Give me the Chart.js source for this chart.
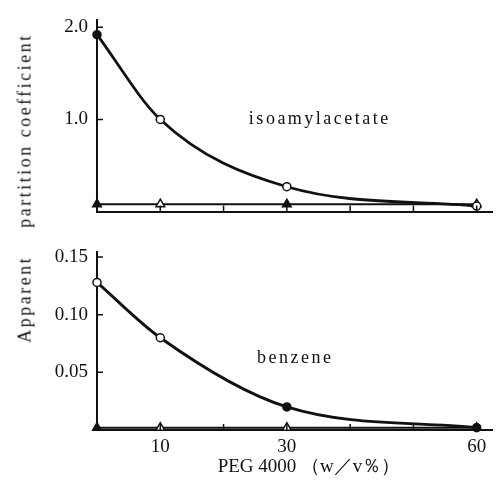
<!DOCTYPE html>
<html>
<head>
<meta charset="utf-8">
<script src="https://cdn.jsdelivr.net/npm/chart.js@4.4.0/dist/chart.umd.min.js"></script>
<style>
body { margin: 0; background: #fff; }
#wrap { position: relative; width: 499px; height: 481px; }
#topChart { position: absolute; left: 0; top: 0; }
#bottomChart { position: absolute; left: 0; top: 232px; }
#ytitle {
    position: absolute; left: 25px; top: 188px;
    transform: translate(-50%, -50%) rotate(-90deg);
    font: 18px "Liberation Serif", serif; letter-spacing: 2.5px;
    white-space: pre; color: #111;
}
</style>
</head>
<body>
<div id="wrap">
    <canvas id="topChart" width="499" height="232"></canvas>
    <canvas id="bottomChart" width="499" height="249"></canvas>
    <div id="ytitle">Apparent    partition coefficient</div>
</div>
<script>
// PEG 4000 concentration (w/v%)
var peg = [0, 10, 30, 60];

// isoamylacetate panel
var isoamylCurve = [1.92, 1.0, 0.27, 0.06];
var isoamylFlat = [0.08, 0.08, 0.08, 0.08];
var isoamylTicks = [1.0, 2.0];

// benzene panel
var benzeneCurve = [0.128, 0.080, 0.020, 0.002];
var benzeneFlat = [0.002, 0.002, 0.002, 0.002];
var benzeneTicks = [0.05, 0.10, 0.15];

var xMarks = [10, 20, 30, 40, 50, 60];
var xLabels = [10, 30, 60];

var ink = '#111';
var serif = '"Liberation Serif", serif';

// small tick marks pointing into the plot area
var innerTicks = {
    id: 'innerTicks',
    afterDraw: function (chart) {
        var ctx = chart.ctx, area = chart.chartArea;
        var x = chart.scales.x, y = chart.scales.y;
        ctx.save();
        ctx.strokeStyle = ink;
        ctx.lineWidth = 1.5;
        ctx.beginPath();
        xMarks.forEach(function (v) {
            var px = x.getPixelForValue(v);
            ctx.moveTo(px, area.bottom);
            ctx.lineTo(px, area.bottom - 6);
        });
        y.ticks.forEach(function (t) {
            var py = y.getPixelForValue(t.value);
            ctx.moveTo(area.left, py);
            ctx.lineTo(area.left + 6, py);
        });
        ctx.stroke();
        ctx.restore();
    }
};

// compound name written inside each panel
var note = {
    id: 'note',
    afterDraw: function (chart, args, opts) {
        var ctx = chart.ctx;
        ctx.save();
        ctx.font = '18px ' + serif;
        ctx.letterSpacing = '2.5px';
        ctx.fillStyle = ink;
        ctx.textAlign = 'left';
        ctx.textBaseline = 'middle';
        ctx.fillText(opts.text, chart.scales.x.getPixelForValue(opts.x), chart.scales.y.getPixelForValue(opts.y));
        ctx.restore();
    }
};

function panel(id, curve, flat, yMax, yTicks, digits, label, showX, pad, curveFill, flatFill) {
    return new Chart(document.getElementById(id), {
        type: 'line',
        data: {
            labels: peg,
            datasets: [{
                data: curve.map(function (v, i) { return { x: peg[i], y: v }; }),
                borderColor: ink,
                borderWidth: 2.8,
                cubicInterpolationMode: 'monotone',
                pointStyle: 'circle',
                pointRadius: 4,
                pointBorderWidth: 1.5,
                pointBorderColor: ink,
                pointBackgroundColor: curveFill,
                clip: false
            }, {
                data: flat.map(function (v, i) { return { x: peg[i], y: v }; }),
                borderColor: ink,
                borderWidth: 2,
                pointStyle: 'triangle',
                pointRadius: 5,
                pointBorderWidth: 1.5,
                pointBorderColor: ink,
                pointBackgroundColor: flatFill,
                clip: false
            }]
        },
        options: {
            responsive: false,
            animation: false,
            layout: { padding: { top: pad, right: 4, left: 0, bottom: 0 } },
            plugins: {
                legend: { display: false },
                tooltip: { enabled: false },
                note: label
            },
            scales: {
                x: {
                    type: 'linear',
                    min: 0,
                    max: 62.5,
                    grid: { display: false, drawTicks: false },
                    border: { display: true, color: ink, width: 2 },
                    afterBuildTicks: function (scale) {
                        scale.ticks = xLabels.map(function (v) { return { value: v }; });
                    },
                    afterFit: function (scale) { scale.height = showX ? 51 : 20; },
                    ticks: {
                        display: showX,
                        padding: 6,
                        color: ink,
                        maxRotation: 0,
                        font: { family: serif, size: 19 }
                    },
                    title: {
                        display: showX,
                        text: '      PEG 4000 （w／v％）',
                        color: ink,
                        padding: { top: 0, bottom: 3 },
                        font: { family: serif, size: 19 }
                    }
                },
                y: {
                    min: 0,
                    max: yMax,
                    grid: { display: false, drawTicks: false },
                    border: { display: true, color: ink, width: 2 },
                    afterBuildTicks: function (scale) {
                        scale.ticks = yTicks.map(function (v) { return { value: v }; });
                    },
                    afterFit: function (scale) { scale.width = 97; },
                    ticks: {
                        padding: 9,
                        color: ink,
                        font: { family: serif, size: 19 },
                        callback: function (v) { return v.toFixed(digits); }
                    }
                }
            }
        },
        plugins: [innerTicks, note]
    });
}

panel('topChart', isoamylCurve, isoamylFlat, 2.075, isoamylTicks, 1,
    { text: 'isoamylacetate', x: 24, y: 1.0 }, false, 17,
    [ink, '#fff', '#fff', '#fff'], [ink, '#fff', ink, '#fff']);
panel('bottomChart', benzeneCurve, benzeneFlat, 0.154, benzeneTicks, 2,
    { text: 'benzene', x: 25.3, y: 0.062 }, true, 4,
    ['#fff', '#fff', ink, ink], [ink, '#fff', '#fff', '#fff']);
</script>
</body>
</html>
